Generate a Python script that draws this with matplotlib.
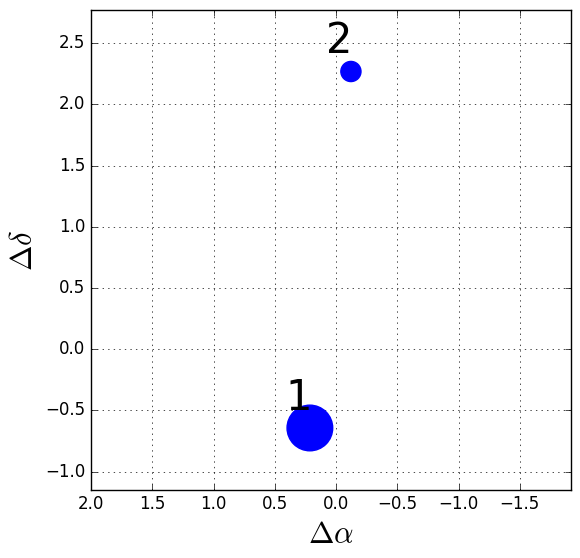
import matplotlib
matplotlib.use("Agg")
import matplotlib.pyplot as plt

plt.style.use("classic")

labels = ["1", "2"]
d_alpha = [0.214, -0.121]
d_delta = [-0.644, 2.268]
sizes = [1080, 210]


def draw_offsets(ax):
    ax.scatter(d_alpha, d_delta, s=sizes, c="b", edgecolors="b", zorder=3)
    for lab, xa, yd in zip(labels, d_alpha, d_delta):
        ax.text(xa + 0.2, yd + 0.15, lab, fontsize=30, zorder=4)
    ax.set_xlim(2.0, -1.915)
    ax.set_ylim(-1.15, 2.77)
    ax.set_xticks([2.0, 1.5, 1.0, 0.5, 0.0, -0.5, -1.0, -1.5])
    ax.set_yticks([-1.0, -0.5, 0.0, 0.5, 1.0, 1.5, 2.0, 2.5])
    ax.set_xlabel(r"$\Delta\alpha$", fontsize=22)
    ax.set_ylabel(r"$\Delta\delta$", fontsize=22)
    ax.tick_params(labelsize=12)
    ax.grid(True)


fig = plt.figure(figsize=(5.8, 5.58), dpi=100)
fig.patch.set_facecolor("white")
ax = fig.add_axes([0.157, 0.122, 0.827, 0.860])
draw_offsets(ax)
fig.savefig("out.png", dpi=100, facecolor="white")
